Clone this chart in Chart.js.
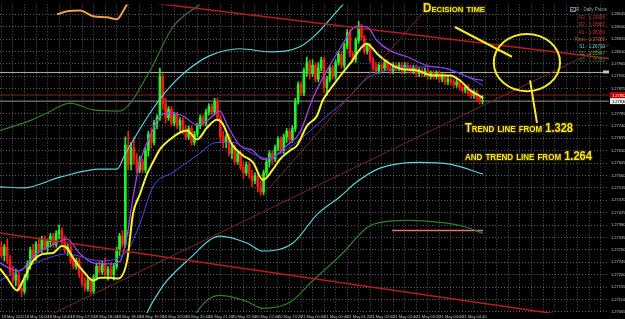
<!DOCTYPE html>
<html>
<head>
<meta charset="utf-8">
<script src="https://cdn.jsdelivr.net/npm/chart.js@4"></script>
<style>
  html, body { margin: 0; padding: 0; background: #000; }
</style>
</head>
<body>
<canvas id="chart" width="625" height="319"></canvas>
<script>
// EURUSD M5, 18-21 May 2012
const timeLabels = [
  "18 May 2012", "18 May 16:00", "18 May 16:40", "18 May 17:20", "18 May 18:00",
  "18 May 18:40", "18 May 19:20", "18 May 20:00", "20 May 20:40", "20 May 21:20",
  "20 May 22:00", "20 May 22:40", "20 May 23:20", "21 May 00:00", "21 May 00:40",
  "21 May 01:20", "21 May 02:00", "21 May 02:40", "21 May 03:20", "21 May 04:00",
  "21 May 04:40"
];

const priceTicks = [
  1.28145, 1.28100, 1.28055, 1.28010, 1.27965, 1.27920, 1.27875, 1.27830, 1.27785,
  1.27740, 1.27695, 1.27650, 1.27605, 1.27560, 1.27515, 1.27470, 1.27425, 1.27380,
  1.27335, 1.27290, 1.27245, 1.27200, 1.27155, 1.27110, 1.27065
];

const opens = [
  1.2730,1.2727,1.2730,1.2725,1.2721,1.2718,1.2720,1.2715,1.2714,1.2719,
  1.2724,1.2729,1.2726,1.2731,1.2729,1.2733,1.2730,1.2732,1.2734,1.2731,
  1.2735,1.2736,1.2732,1.2729,1.2730,1.2725,1.2723,1.2725,1.2720,1.2717,
  1.2715,1.2718,1.2714,1.2719,1.2723,1.2721,1.2724,1.2720,1.2722,1.2720,
  1.2723,1.2729,1.2734,1.2731,1.2767,1.2760,1.2766,1.2762,1.2758,1.2761,
  1.2758,1.2765,1.2771,1.2768,1.2775,1.2777,1.2792,1.2782,1.2777,1.2780,
  1.2775,1.2778,1.2774,1.2776,1.2772,1.2770,1.2773,1.2768,1.2771,1.2774,
  1.2777,1.2775,1.2779,1.2781,1.2779,1.2783,1.2777,1.2770,1.2768,1.2770,
  1.2764,1.2766,1.2761,1.2764,1.2759,1.2757,1.2760,1.2756,1.2754,1.2756,
  1.2752,1.2750,1.2757,1.2761,1.2764,1.2762,1.2766,1.2769,1.2765,1.2770,
  1.2772,1.2769,1.2773,1.2783,1.2789,1.2786,1.2794,1.2797,1.2793,1.2796,
  1.2791,1.2795,1.2798,1.2788,1.2791,1.2795,1.2792,1.2797,1.2800,1.2796,
  1.2803,1.2808,1.2800,1.2798,1.2805,1.2810,1.2806,1.2801,1.2803,1.2798,
  1.2795,1.2794,1.2796,1.2795,1.2797,1.2795,1.2794,1.2796,1.2795,1.2796,
  1.2794,1.2796,1.2795,1.2794,1.2795,1.2793,1.2794,1.2793,1.2794,1.2792,
  1.2793,1.2792,1.2793,1.2791,1.2792,1.2790,1.2791,1.2790,1.2789,1.2790,
  1.2788,1.2787,1.2788,1.2786,1.2785,1.2786,1.2784,1.2783
];
const highs = [
  1.2732,1.2731,1.2733,1.2727,1.2723,1.2722,1.2721,1.2717,1.2720,1.2725,
  1.2730,1.2731,1.2732,1.2733,1.2734,1.2734,1.2733,1.2735,1.2735,1.2736,
  1.2738,1.2737,1.2734,1.2731,1.2731,1.2727,1.2726,1.2726,1.2722,1.2719,
  1.2719,1.2719,1.2720,1.2724,1.2725,1.2725,1.2726,1.2723,1.2724,1.2724,
  1.2730,1.2735,1.2736,1.2770,1.2772,1.2768,1.2770,1.2764,1.2763,1.2762,
  1.2766,1.2772,1.2773,1.2776,1.2778,1.2795,1.2793,1.2784,1.2781,1.2781,
  1.2779,1.2779,1.2777,1.2777,1.2774,1.2774,1.2774,1.2772,1.2775,1.2778,
  1.2778,1.2780,1.2782,1.2782,1.2784,1.2784,1.2778,1.2772,1.2771,1.2771,
  1.2768,1.2767,1.2765,1.2765,1.2761,1.2761,1.2761,1.2758,1.2757,1.2757,
  1.2754,1.2758,1.2762,1.2765,1.2765,1.2767,1.2770,1.2770,1.2771,1.2773,
  1.2773,1.2774,1.2784,1.2790,1.2790,1.2795,1.2799,1.2798,1.2798,1.2797,
  1.2797,1.2799,1.2799,1.2792,1.2796,1.2796,1.2798,1.2801,1.2801,1.2804,
  1.2809,1.2809,1.2801,1.2806,1.2812,1.2811,1.2807,1.2804,1.2804,1.2799,
  1.2797,1.2797,1.2797,1.2798,1.2798,1.2796,1.2797,1.2797,1.2797,1.2797,
  1.2797,1.2797,1.2796,1.2796,1.2796,1.2795,1.2795,1.2795,1.2795,1.2794,
  1.2794,1.2794,1.2794,1.2793,1.2793,1.2792,1.2792,1.2791,1.2791,1.2791,
  1.2789,1.2789,1.2789,1.2787,1.2787,1.2787,1.2785,1.2785
];
const lows = [
  1.2726,1.2725,1.2724,1.2720,1.2717,1.2716,1.2714,1.2712,1.2713,1.2718,
  1.2722,1.2725,1.2725,1.2728,1.2728,1.2729,1.2728,1.2730,1.2730,1.2730,
  1.2733,1.2731,1.2728,1.2727,1.2724,1.2722,1.2722,1.2719,1.2716,1.2714,
  1.2714,1.2713,1.2713,1.2718,1.2720,1.2720,1.2719,1.2718,1.2719,1.2718,
  1.2722,1.2727,1.2730,1.2730,1.2758,1.2758,1.2760,1.2757,1.2757,1.2757,
  1.2757,1.2763,1.2766,1.2767,1.2773,1.2776,1.2780,1.2775,1.2776,1.2774,
  1.2774,1.2773,1.2772,1.2771,1.2769,1.2769,1.2767,1.2767,1.2770,1.2773,
  1.2774,1.2774,1.2778,1.2778,1.2778,1.2776,1.2768,1.2766,1.2766,1.2763,
  1.2762,1.2760,1.2760,1.2758,1.2755,1.2756,1.2755,1.2752,1.2753,1.2750,
  1.2749,1.2749,1.2756,1.2759,1.2760,1.2761,1.2765,1.2764,1.2764,1.2768,
  1.2768,1.2768,1.2772,1.2782,1.2785,1.2785,1.2792,1.2791,1.2792,1.2790,
  1.2790,1.2794,1.2786,1.2785,1.2790,1.2791,1.2791,1.2796,1.2795,1.2795,
  1.2802,1.2799,1.2797,1.2797,1.2804,1.2805,1.2800,1.2800,1.2797,1.2794,
  1.2793,1.2793,1.2794,1.2794,1.2794,1.2793,1.2793,1.2794,1.2794,1.2793,
  1.2793,1.2794,1.2793,1.2793,1.2792,1.2792,1.2792,1.2792,1.2791,1.2791,
  1.2791,1.2791,1.2790,1.2790,1.2789,1.2789,1.2789,1.2788,1.2788,1.2787,
  1.2786,1.2786,1.2785,1.2784,1.2784,1.2783,1.2782,1.2782
];
const closes = [
  1.2727,1.2730,1.2725,1.2721,1.2718,1.2720,1.2715,1.2714,1.2719,1.2724,
  1.2729,1.2726,1.2731,1.2729,1.2733,1.2730,1.2732,1.2734,1.2731,1.2735,
  1.2736,1.2732,1.2729,1.2730,1.2725,1.2723,1.2725,1.2720,1.2717,1.2715,
  1.2718,1.2714,1.2719,1.2723,1.2721,1.2724,1.2720,1.2722,1.2720,1.2723,
  1.2729,1.2734,1.2731,1.2767,1.2760,1.2766,1.2762,1.2758,1.2761,1.2758,
  1.2765,1.2771,1.2768,1.2775,1.2777,1.2792,1.2782,1.2777,1.2780,1.2775,
  1.2778,1.2774,1.2776,1.2772,1.2770,1.2773,1.2768,1.2771,1.2774,1.2777,
  1.2775,1.2779,1.2781,1.2779,1.2783,1.2777,1.2770,1.2768,1.2770,1.2764,
  1.2766,1.2761,1.2764,1.2759,1.2757,1.2760,1.2756,1.2754,1.2756,1.2752,
  1.2750,1.2757,1.2761,1.2764,1.2762,1.2766,1.2769,1.2765,1.2770,1.2772,
  1.2769,1.2773,1.2783,1.2789,1.2786,1.2794,1.2797,1.2793,1.2796,1.2791,
  1.2795,1.2798,1.2788,1.2791,1.2795,1.2792,1.2797,1.2800,1.2796,1.2803,
  1.2808,1.2800,1.2798,1.2805,1.2810,1.2806,1.2801,1.2803,1.2798,1.2795,
  1.2794,1.2796,1.2795,1.2797,1.2795,1.2794,1.2796,1.2795,1.2796,1.2794,
  1.2796,1.2795,1.2794,1.2795,1.2793,1.2794,1.2793,1.2794,1.2792,1.2793,
  1.2792,1.2793,1.2791,1.2792,1.2790,1.2791,1.2790,1.2789,1.2790,1.2788,
  1.2787,1.2788,1.2786,1.2785,1.2786,1.2784,1.2783,1.2783
];

// indicator lines, [bar, price]
const maYellow = [
  [-0.5,1.27222],[1.9,1.27189],[5.4,1.27143],[7.5,1.27179],[11,1.27250],[14.4,1.27275],
  [17.9,1.27279],[21,1.27304],[22.8,1.27297],[24.8,1.27261],[28.3,1.27214],[31.8,1.27179],
  [34.2,1.27189],[37.7,1.27189],[40.5,1.27186],[43.6,1.27250],[45.7,1.27422],[48.1,1.27493],
  [50.5,1.27564],[52.6,1.27608],[55,1.27655],[58.5,1.27691],[62,1.27716],[64.4,1.27723],
  [67.9,1.27691],[71.4,1.27734],[74.8,1.27762],[76.6,1.27751],[80,1.27673],[83.8,1.27633],
  [87.3,1.27608],[90.8,1.27544],[94.3,1.27583],[96.7,1.27619],[100.2,1.27651],[102.6,1.27669],
  [106.1,1.27741],[109.5,1.27776],[111.6,1.27834],[115.1,1.27887],[121,1.27966],[126.9,1.28038],
  [128,1.28031],[130.4,1.28002],[133.8,1.27973],[138.3,1.27948],[144.2,1.27941],[149.8,1.27923],
  [155.7,1.27923],[159.2,1.27905],[162.6,1.27870],[166.1,1.27848],[167.2,1.27841]
];
const maPurple = [
  [-0.5,1.27243],[3,1.27222],[6.4,1.27214],[11,1.27268],[16.9,1.27304],[22.8,1.27329],
  [27.3,1.27275],[31.8,1.27243],[37.7,1.27239],[41.2,1.27250],[43.6,1.27340],[45.7,1.27483],
  [48.1,1.27608],[52.6,1.27726],[55,1.27776],[58.5,1.27787],[63,1.27776],[67.9,1.27744],
  [71.4,1.27759],[75.9,1.27794],[78.3,1.27744],[82.8,1.27669],[87.3,1.27651],[90.8,1.27619],
  [94.3,1.27626],[99.1,1.27669],[103.6,1.27716],[108.1,1.27841],[113,1.27941],[117.5,1.28020],
  [123.4,1.28102],[126.9,1.28099],[130.4,1.28049],[134.9,1.28013],[140.8,1.27991],[147.7,1.27959],
  [154.7,1.27948],[159.2,1.27930],[163.7,1.27912],[167.2,1.27905]
];
const maBlue = [
  [-0.5,1.27179],[11,1.27239],[22.8,1.27275],[34.2,1.27250],[43.6,1.27286],[48.1,1.27386],
  [52.6,1.27519],[59.6,1.27572],[67.9,1.27633],[74.8,1.27680],[80.4,1.27680],[86.3,1.27644],
  [92.2,1.27623],[99.1,1.27655],[103.6,1.27691],[113,1.27776],[121,1.27848],[126.9,1.27912],
  [134.9,1.27945],[141.8,1.27952],[149.8,1.27955],[159.2,1.27930],[167.2,1.27887]
];
const bandUpper = [
  [-0.5,1.27519],[7.5,1.27515],[20.3,1.27554],[34.2,1.27583],[40.1,1.27583],[42.9,1.27637],
  [51.6,1.27787],[57.5,1.27870],[64.4,1.27941],[72.4,1.27995],[82.8,1.28020],[93.2,1.28009],
  [103.6,1.28027],[118.6,1.28181],[124.5,1.28253]
];
const bandLower = [
  [49.1,1.27017],[50.5,1.27060],[55,1.27143],[57.5,1.27179],[64.4,1.27250],[75.9,1.27340],
  [85.2,1.27315],[90.8,1.27286],[101.2,1.27315],[109.5,1.27418],[117.5,1.27483],[123.4,1.27537],
  [131.4,1.27587],[145.3,1.27608],[155.7,1.27601],[167.2,1.27565]
];
const wideUpper = [
  [-0.5,1.27723],[9.9,1.27759],[15.8,1.27787],[23.8,1.27823],[31.8,1.27798],[40.1,1.27794],
  [42.2,1.27798],[51.6,1.27941],[59.5,1.28099],[68.9,1.28181],[74.1,1.28224]
];
const wideLower = [
  [65.5,1.27000],[67.9,1.27064],[75.9,1.27125],[80.4,1.27118],[85.2,1.27103],[90.8,1.27078],
  [100.2,1.27100],[108.1,1.27179],[117.5,1.27268],[129,1.27383],[140.8,1.27397],[152.2,1.27390],
  [160.2,1.27376],[167.2,1.27350]
];
const orangeLine = [
  [19.3,1.28145],[22.8,1.28156],[27.3,1.28159],[31.8,1.28138],[36.6,1.28134],[40.1,1.28127],
  [42.2,1.28156],[43.9,1.28188]
];

// hand drawn trend lines, [bar, price]
const trendFrom1328 = [[40,1.28202],[212,1.27983]];
const trendFrom1264 = [[-1,1.27352],[212,1.27028]];
const supportLong = [[10,1.27019],[212,1.28041]];
const supportSteep = [[91,1.27491],[150,1.28194]];
const pivotLine = [[135.6,1.27360],[167.2,1.27360]];

const markerLevel = 1.27934;
const askPrice = 1.27852;
const bidPrice = 1.27830;

const pivotNames = ["R3", "R2", "R1", "Pivot", "S1", "S2", "S3"];
const pivotValues = ["1.29038", "1.28883", "1.28356", "1.27360", "1.26790", "1.25847", "1.25280"];

const GREEN = "#28f028";
const RED = "#f51a1a";

const toXY = (pts) => pts.map((p) => ({ x: p[0], y: p[1] }));
const candleColor = (ctx) =>
  closes[ctx.dataIndex] >= opens[ctx.dataIndex] ? GREEN : RED;

function lineSet(pts, color, width, order, smooth) {
  return {
    type: "line",
    data: toXY(pts),
    borderColor: color,
    borderWidth: width,
    pointRadius: 0,
    fill: false,
    tension: smooth ? 0.4 : 0,
    cubicInterpolationMode: smooth ? "monotone" : "default",
    order: order,
  };
}

const blackBg = {
  id: "blackBg",
  beforeDraw(chart) {
    const c = chart.ctx;
    c.save();
    c.fillStyle = "#000";
    c.fillRect(0, 0, chart.width, chart.height);
    c.restore();
  },
};

function fitText(ctx, txt, x, yb, w, size) {
  ctx.save();
  ctx.font = "small-caps bold " + size + 'px "Liberation Sans"';
  if ("fontVariantCaps" in ctx) ctx.fontVariantCaps = "small-caps";
  ctx.textAlign = "left";
  ctx.textBaseline = "alphabetic";
  const m = ctx.measureText(txt).width;
  ctx.translate(x, yb);
  ctx.scale(w / m, 1);
  ctx.lineJoin = "round";
  ctx.lineWidth = 2.4;
  ctx.strokeStyle = "#2b2600";
  ctx.strokeText(txt, 0, 0);
  ctx.fillStyle = "#fbe919";
  ctx.fillText(txt, 0, 0);
  ctx.restore();
}

function priceBox(ctx, left, py, txt, bg, fg) {
  ctx.fillStyle = bg;
  ctx.fillRect(left, py - 3, 625 - left, 6);
  ctx.fillStyle = fg;
  ctx.font = '4px "Liberation Sans"';
  ctx.textBaseline = "middle";
  ctx.textAlign = "left";
  ctx.fillText(txt, left + 2, py + 0.5);
}

const notes = {
  id: "notes",
  afterDraw(chart) {
    const { ctx, chartArea } = chart;
    const sx = chart.scales.x;
    const sy = chart.scales.y;
    const px = (v) => sx.getPixelForValue(v);
    const py = (v) => sy.getPixelForValue(v);
    ctx.save();

    // current price boxes on the price axis
    priceBox(ctx, chartArea.right + 1, py(askPrice), askPrice.toFixed(5), "#c80000", "#ffffff");
    priceBox(ctx, chartArea.right + 1, py(bidPrice), bidPrice.toFixed(5), "#e8e8e8", "#000000");
    ctx.fillStyle = "#c8c8a8";
    ctx.fillRect(chartArea.right - 6, py(markerLevel) - 2, 6, 3);

    // pivot table in the corner
    ctx.font = '4.5px "Liberation Sans"';
    ctx.textAlign = "right";
    ctx.textBaseline = "middle";
    ctx.fillStyle = "#9aa0b0";
    ctx.fillText("EUR - Daily Pivots", chartArea.right - 2, 10);
    ctx.strokeStyle = "#7080a0";
    ctx.lineWidth = 1;
    ctx.strokeRect(chartArea.right - 38.5, 7.5, 5, 4);
    const pivotColors = ["#c83030", "#c83030", "#c83030", "#e85828", "#60d0d8", "#38c038", "#2a8a2a"];
    pivotNames.forEach((n, k) => {
      ctx.fillStyle = pivotColors[k];
      ctx.fillText(n + " - " + pivotValues[k], chartArea.right - 4, 18 + k * 7.2);
    });

    // ellipse round the decision zone
    const cx = px(182.4), cy = py(1.2797);
    ctx.beginPath();
    ctx.ellipse(cx, cy, px(193.9) - cx, py(1.27866) - cy, 0, 0, Math.PI * 2);
    ctx.strokeStyle = "#f8ec20";
    ctx.lineWidth = 2;
    ctx.stroke();
    ctx.beginPath();
    ctx.moveTo(px(157.4), py(1.28099));
    ctx.lineTo(px(177.2), py(1.27991));
    ctx.moveTo(px(183.5), py(1.27905));
    ctx.lineTo(px(185.9), py(1.27751));
    ctx.stroke();

    fitText(ctx, "Decision time", 423, 12, 62, 12);
    fitText(ctx, "Trend line from 1.328", 465, 132, 108, 12.5);
    fitText(ctx, "and trend line from 1.264", 465, 160, 127, 12.5);
    ctx.restore();
  },
};

const gridColor = "rgba(165,165,165,0.55)";

new Chart(document.getElementById("chart"), {
  type: "bar",
  data: {
    datasets: [
      {
        label: "wicks",
        data: closes.map((c, i) => ({ x: i, y: [lows[i], highs[i]] })),
        backgroundColor: candleColor,
        barThickness: 1,
        grouped: false,
        order: 6,
      },
      {
        label: "bodies",
        data: closes.map((c, i) => ({ x: i, y: [opens[i], c] })),
        backgroundColor: candleColor,
        barThickness: 2,
        grouped: false,
        order: 5,
      },
      lineSet([[-2, markerLevel], [215, markerLevel]], "#b4b4a0", 1, 8, false),
      lineSet([[-2, askPrice], [215, askPrice]], "#8e1a1a", 1, 8, false),
      lineSet([[-2, bidPrice], [215, bidPrice]], "#8a8a8a", 1, 8, false),
      lineSet(pivotLine, "#e07858", 1.5, 7, false),
      lineSet(wideUpper, "#2f7f2f", 1.2, 4, true),
      lineSet(wideLower, "#2f7f2f", 1.2, 4, true),
      lineSet(bandUpper, "#58d4dc", 1.2, 4, true),
      lineSet(bandLower, "#58d4dc", 1.2, 4, true),
      lineSet(orangeLine, "#f0a040", 2, 4, true),
      lineSet(maBlue, "#4a4af0", 1, 3, true),
      lineSet(maPurple, "#a040f0", 1.3, 3, true),
      lineSet(maYellow, "#f8f030", 2, 2, true),
      lineSet(supportLong, "#7a2626", 1, 1, false),
      lineSet(supportSteep, "#7a2626", 1, 1, false),
      lineSet(trendFrom1328, "#b81c1c", 1.5, 1, false),
      lineSet(trendFrom1264, "#b81c1c", 1.5, 1, false),
    ],
  },
  options: {
    responsive: false,
    devicePixelRatio: 1,
    animation: false,
    events: [],
    layout: { padding: 0 },
    plugins: {
      legend: { display: false },
      tooltip: { enabled: false },
    },
    scales: {
      x: {
        type: "linear",
        min: -0.5,
        max: 210.9,
        offset: false,
        afterBuildTicks(scale) {
          const t = [];
          for (let v = 0; v <= 208; v += 4) t.push({ value: v });
          scale.ticks = t;
        },
        afterFit(scale) {
          scale.height = 6;
        },
        grid: { color: gridColor, lineWidth: 1, drawTicks: false, offset: false },
        border: { display: false, dash: [1, 2] },
        ticks: {
          autoSkip: false,
          maxRotation: 0,
          align: "start",
          padding: 1,
          color: "#c4c4c4",
          font: { family: "Liberation Sans", size: 4 },
          callback: (v) => (v % 8 === 0 && timeLabels[v / 8] ? timeLabels[v / 8] : ""),
        },
      },
      y: {
        type: "linear",
        position: "right",
        min: 1.27061,
        max: 1.28181,
        beginAtZero: false,
        afterBuildTicks(scale) {
          scale.ticks = priceTicks.map((v) => ({ value: v }));
        },
        afterFit(scale) {
          scale.width = 16;
        },
        grid: { color: gridColor, lineWidth: 1, drawTicks: false },
        border: { display: false, dash: [1, 2] },
        ticks: {
          padding: 2,
          color: "#c4c4c4",
          font: { family: "Liberation Sans", size: 4 },
          callback: (v) => v.toFixed(5),
        },
      },
    },
  },
  plugins: [blackBg, notes],
});
</script>
</body>
</html>
